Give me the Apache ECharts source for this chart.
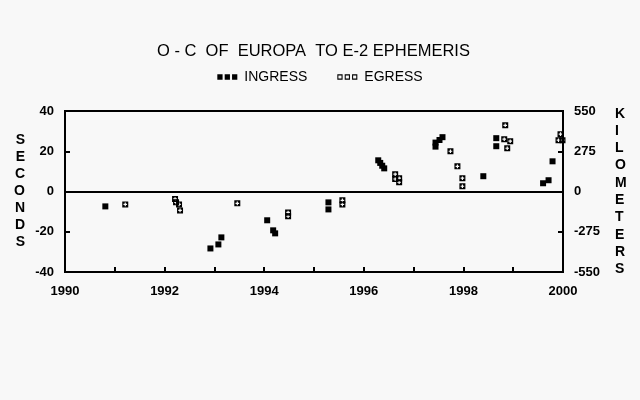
<!DOCTYPE html>
<html>
<head>
<meta charset="utf-8">
<script src="https://cdn.jsdelivr.net/npm/echarts@6/dist/echarts.min.js"></script>
<style>
  html, body { margin: 0; padding: 0; background: #f8f8f8; }
  #chart { width: 640px; height: 400px; }
</style>
</head>
<body>
<div id="chart"></div>
<script>
// ingress timings (year, seconds)
var ingressYears = [1990.81, 1992.92, 1993.08, 1993.14, 1994.06, 1994.18, 1994.22, 1995.29, 1995.29,
  1996.29, 1996.33, 1996.37, 1996.41, 1997.44, 1997.44, 1997.52, 1997.58, 1998.40, 1998.66, 1998.66,
  1999.60, 1999.71, 1999.79];
var ingressSec = [-7.4, -28.3, -26.3, -22.8, -14.3, -19.3, -20.8, -5.4, -8.9,
  15.5, 14.2, 12.8, 11.5, 22.3, 24.3, 25.6, 27.0, 7.6, 26.5, 22.5,
  4.1, 5.6, 15.0];

// egress timings (year, seconds)
var egressYears = [1991.21, 1992.21, 1992.23, 1992.29, 1992.31, 1993.46, 1994.48, 1994.48, 1995.57, 1995.57,
  1996.63, 1996.63, 1996.71, 1996.71, 1997.74, 1997.88, 1997.98, 1997.98,
  1998.84, 1998.82, 1998.94, 1998.88, 1999.95, 1999.91, 1999.99];
var egressSec = [-6.4, -3.7, -5.4, -6.4, -9.4, -5.9, -10.4, -12.3, -4.4, -6.4,
  8.6, 6.2, 6.6, 4.6, 20.0, 12.5, 6.6, 2.6,
  32.9, 26.0, 25.0, 21.5, 28.5, 25.5, 25.5];

var yearTicks = [1990, 1992, 1994, 1996, 1998, 2000];
var secTicks = [-40, -20, 0, 20, 40];
var kmTicks = [-550, -275, 0, 275, 550];

function pairs(xs, ys) {
  return xs.map(function (x, i) { return [x, ys[i]]; });
}

var egressSymbol = 'path://M0,0H5V5H0Z M2,1V2H1V3H2V4H3V3H4V2H3V1Z';
var font = 'Liberation Sans';

var chart = echarts.init(document.getElementById('chart'));
chart.setOption({
  backgroundColor: '#f8f8f8',
  animation: false,
  title: {
    text: 'O - C  OF  EUROPA  TO E-2 EPHEMERIS',
    left: 152,
    top: 38,
    textStyle: { color: '#000', fontFamily: font, fontWeight: 'normal', fontSize: 16.5 }
  },
  legend: {
    top: 65,
    left: 'center',
    itemGap: 30,
    itemWidth: 20,
    itemHeight: 6,
    textStyle: { color: '#000', fontFamily: font, fontSize: 14, padding: [0, 0, 0, 2] },
    data: [
      { name: 'INGRESS', icon: 'path://M0,0H5V5H0Z M7,0H12V5H7Z M14,0H19V5H14Z' },
      { name: 'EGRESS', icon: 'path://M0,0H5V5H0Z M1,1V4H4V1Z M7,0H12V5H7Z M8,1V4H11V1Z M14,0H19V5H14Z M15,1V4H18V1Z' }
    ]
  },
  grid: {
    left: 65, right: 77, top: 111, bottom: 128,
    show: true, borderColor: '#000', borderWidth: 2, backgroundColor: 'transparent'
  },
  xAxis: {
    type: 'value',
    min: 1990, max: 2000, interval: 1,
    axisLine: { onZero: false, lineStyle: { color: '#000', width: 2 } },
    axisTick: { inside: true, length: 5, lineStyle: { color: '#000', width: 2 } },
    splitLine: { show: false },
    axisLabel: {
      color: '#000', fontFamily: font, fontWeight: 'bold', fontSize: 13, margin: 13,
      formatter: function (v) { return yearTicks.indexOf(v) >= 0 ? String(v) : ''; }
    }
  },
  yAxis: [{
    type: 'value',
    min: secTicks[0], max: secTicks[secTicks.length - 1], interval: 20,
    name: 'SECONDS'.split('').join('\n'),
    nameLocation: 'middle',
    nameGap: 40,
    nameRotate: 0,
    nameTextStyle: { color: '#000', fontFamily: font, fontWeight: 'bold', fontSize: 14, lineHeight: 17 },
    axisLine: { show: true, onZero: false, lineStyle: { color: '#000', width: 2 } },
    axisTick: { show: true, inside: true, length: 5, lineStyle: { color: '#000', width: 2 } },
    splitLine: { show: false },
    axisLabel: { color: '#000', fontFamily: font, fontWeight: 'bold', fontSize: 13, margin: 11 }
  }, {
    type: 'value',
    min: kmTicks[0], max: kmTicks[kmTicks.length - 1], interval: 275,
    position: 'right',
    name: 'KILOMETERS'.split('').join('\n'),
    nameLocation: 'middle',
    nameGap: 52,
    nameRotate: 0,
    nameTextStyle: { color: '#000', fontFamily: font, fontWeight: 'bold', fontSize: 14, lineHeight: 17.3 },
    axisLine: { show: true, lineStyle: { color: '#000', width: 2 } },
    axisTick: { show: true, inside: true, length: 5, lineStyle: { color: '#000', width: 2 } },
    splitLine: { show: false },
    axisLabel: { color: '#000', fontFamily: font, fontWeight: 'bold', fontSize: 13, margin: 11 }
  }],
  series: [{
    name: 'INGRESS',
    type: 'scatter',
    symbol: 'rect',
    symbolSize: 6,
    itemStyle: { color: '#000', opacity: 1 },
    data: pairs(ingressYears, ingressSec),
    markLine: {
      silent: true,
      symbol: 'none',
      label: { show: false },
      lineStyle: { color: '#000', width: 2, type: 'solid' },
      data: [{ yAxis: 0 }]
    }
  }, {
    name: 'EGRESS',
    type: 'scatter',
    symbol: egressSymbol,
    symbolSize: 6,
    itemStyle: { color: '#000', opacity: 1 },
    data: pairs(egressYears, egressSec)
  }]
});
</script>
</body>
</html>
